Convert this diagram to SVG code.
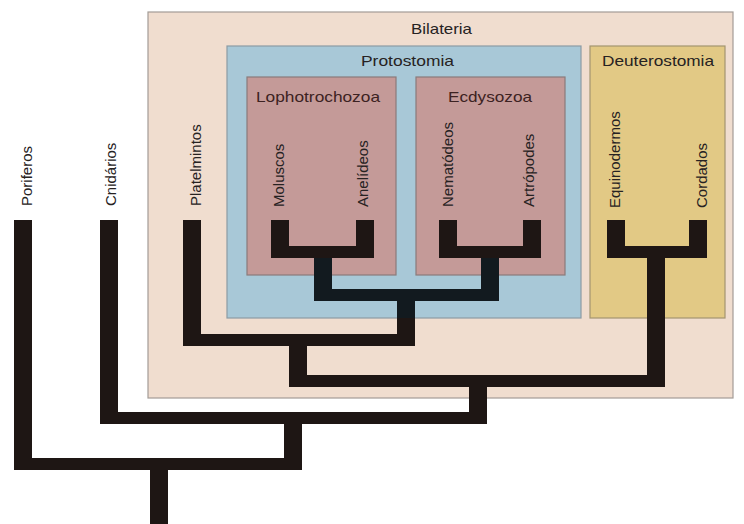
<svg xmlns="http://www.w3.org/2000/svg" width="744" height="524" viewBox="0 0 744 524">
<style>
.box{stroke-width:1.2}
.bil{fill:#f0ddcf;stroke:#a39c97}
.pro{fill:#a8c8d7;stroke:#8c9ba4}
.sub{fill:#c49a98;stroke:#8a7b7b}
.deu{fill:#e2c985;stroke:#a39570}
.t{font-family:"Liberation Sans",Arial,sans-serif;font-size:15px;fill:#262222}
.tm{fill:#3c2222}
.bar{fill:#1e1614}
.nb{fill:#121a1f}
</style>
<rect width="744" height="524" fill="#ffffff"/>
<g id="bilateria">
<rect class="box bil" x="148" y="12" width="585" height="386"/>
<text class="t" x="411" y="34" textLength="61" lengthAdjust="spacingAndGlyphs">Bilateria</text>
</g>
<g id="protostomia">
<rect class="box pro" x="227" y="46" width="354" height="272"/>
<text class="t" x="361" y="66" textLength="93" lengthAdjust="spacingAndGlyphs">Protostomia</text>
</g>
<g id="lophotrochozoa">
<rect class="box sub" x="247" y="77" width="149" height="198"/>
<text class="t tm" x="256" y="102" textLength="124" lengthAdjust="spacingAndGlyphs">Lophotrochozoa</text>
</g>
<g id="ecdysozoa">
<rect class="box sub" x="416" y="77" width="149" height="198"/>
<text class="t tm" x="448" y="102" textLength="84" lengthAdjust="spacingAndGlyphs">Ecdysozoa</text>
</g>
<g id="deuterostomia">
<rect class="box deu" x="590" y="46" width="135" height="272"/>
<text class="t" x="602" y="66" textLength="112" lengthAdjust="spacingAndGlyphs">Deuterostomia</text>
</g>
<g id="poriferos"><text class="t" transform="translate(32,206) rotate(-90)">Poriferos</text></g>
<g id="cnidarios"><text class="t" transform="translate(116,206) rotate(-90)">Cnidários</text></g>
<g id="platelmintos"><text class="t" transform="translate(201,206) rotate(-90)">Platelmintos</text></g>
<g id="moluscos"><text class="t" transform="translate(284,207) rotate(-90)">Moluscos</text></g>
<g id="anelideos"><text class="t" transform="translate(368,207) rotate(-90)">Anelídeos</text></g>
<g id="nematodeos"><text class="t" transform="translate(453,207) rotate(-90)">Nematódeos</text></g>
<g id="artropodes"><text class="t" transform="translate(534,207) rotate(-90)">Artrópodes</text></g>
<g id="equinodermos"><text class="t" transform="translate(620,208) rotate(-90)">Equinodermos</text></g>
<g id="cordados"><text class="t" transform="translate(707,208) rotate(-90)">Cordados</text></g>
<g id="connectors">
<rect class="bar" x="271" y="220" width="18" height="38"/>
<rect class="bar" x="356" y="220" width="18" height="38"/>
<rect class="bar" x="271" y="246" width="103" height="12"/>
<rect class="nb" x="314" y="258" width="18" height="43"/>
<rect class="bar" x="439" y="220" width="18" height="38"/>
<rect class="bar" x="523" y="220" width="18" height="38"/>
<rect class="bar" x="439" y="246" width="102" height="12"/>
<rect class="nb" x="481" y="258" width="18" height="43"/>
<rect class="nb" x="314" y="289" width="185" height="12"/>
<rect class="nb" x="397" y="301" width="18" height="17"/>
<rect class="bar" x="397" y="318" width="18" height="28"/>
<rect class="bar" x="183" y="220" width="18" height="126"/>
<rect class="bar" x="183" y="334" width="232" height="12"/>
<rect class="bar" x="289" y="346" width="18" height="41"/>
<rect class="bar" x="607" y="220" width="18" height="38"/>
<rect class="bar" x="689" y="220" width="18" height="38"/>
<rect class="bar" x="607" y="246" width="100" height="12"/>
<rect class="bar" x="647" y="258" width="18" height="129"/>
<rect class="bar" x="289" y="375" width="376" height="12"/>
<rect class="bar" x="469" y="387" width="18" height="37"/>
<rect class="bar" x="100" y="220" width="18" height="204"/>
<rect class="bar" x="100" y="412" width="387" height="12"/>
<rect class="bar" x="284" y="424" width="18" height="46"/>
<rect class="bar" x="14" y="220" width="18" height="250"/>
<rect class="bar" x="14" y="458" width="288" height="12"/>
<rect class="bar" x="150" y="470" width="18" height="54"/>
</g>
</svg>
